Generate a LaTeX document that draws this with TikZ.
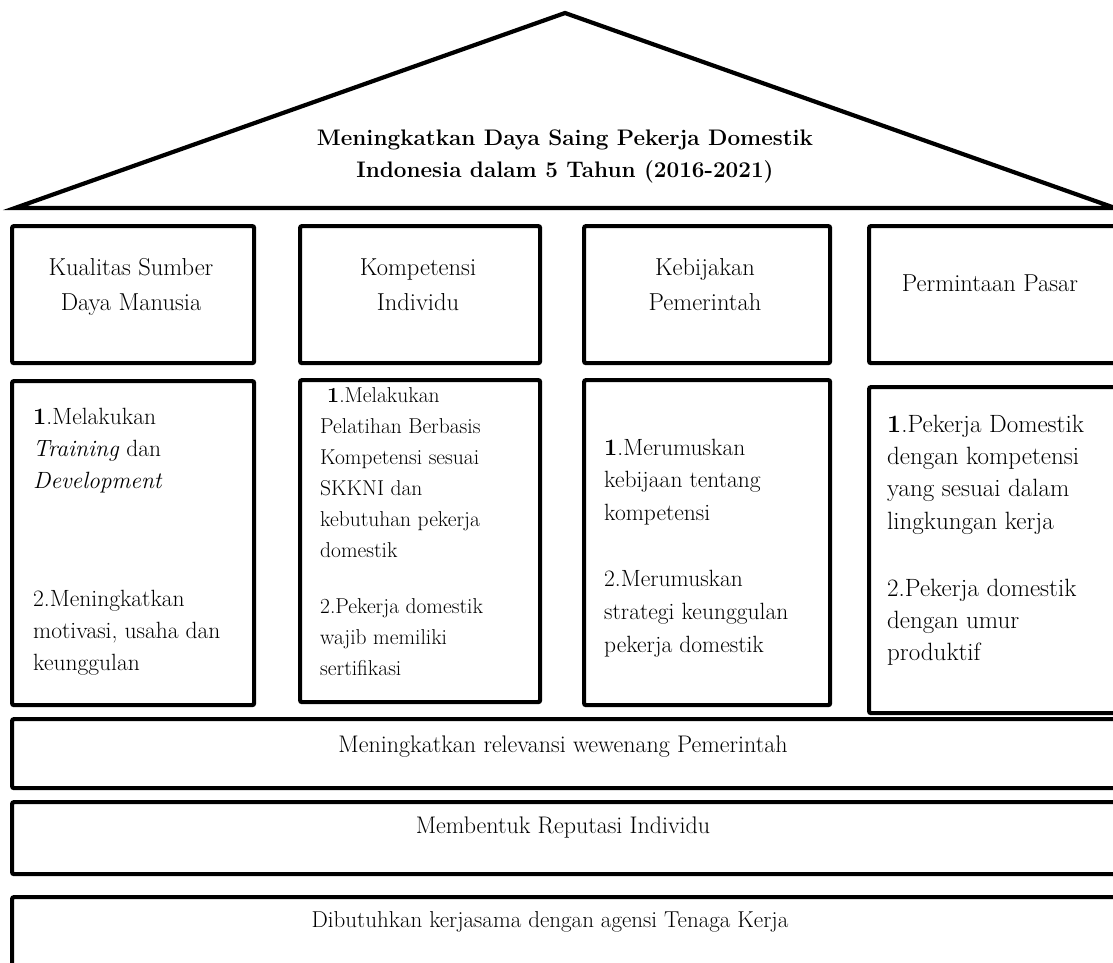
\documentclass[tikz,border=0pt]{standalone}
\usepackage{fontspec}
\begin{document}
\begin{tikzpicture}[x=1pt,y=-1pt,
  frame/.style={draw, line width=4.2pt, rounded corners=2pt, anchor=north west, inner sep=0pt},
  roofline/.style={draw, line width=4.2pt, line join=miter},
  leftblock/.style={inner sep=0pt, anchor=base west},
  headblock/.style={font=\fontsize{24.5}{35}\selectfont, inner sep=0pt, anchor=base},
  bandtext/.style={font=\fontsize{24}{30}\selectfont, inner sep=0pt, anchor=base},
  titletext/.style={font=\fontsize{22.5}{32}\selectfont\bfseries, inner sep=0pt, anchor=base}
]
\useasboundingbox (0,0) rectangle (1113,962);
\clip (0,0) rectangle (1113,962);

% roof
\coordinate (roofL) at (15,208);
\coordinate (apex) at (565,13);
\coordinate (roofR) at (1115,208);
\draw[roofline] (roofL) -- (apex) -- (roofR) -- cycle;
\node[titletext] (title) at (565,145) {\parbox[t]{640pt}{\centering Meningkatkan Daya Saing Pekerja Domestik\\Indonesia dalam 5 Tahun (2016-2021)}};

% top boxes
\node[frame, minimum width=242pt, minimum height=137pt] (b1) at (10,224) {};
\node[frame, minimum width=240pt, minimum height=137pt] (b2) at (298,224) {};
\node[frame, minimum width=246pt, minimum height=137pt] (b3) at (582,224) {};
\node[frame, minimum width=270pt, minimum height=137pt] (b4) at (867,224) {};

\node[headblock] (h1) at (131,275) {\parbox[t]{235pt}{\centering Kualitas Sumber\\Daya Manusia}};
\node[headblock] (h2) at (418,275) {\parbox[t]{235pt}{\centering Kompetensi\\Individu}};
\node[headblock] (h3) at (705,275) {\parbox[t]{235pt}{\centering Kebijakan\\Pemerintah}};
\node[headblock] (h4) at (990,291) {Permintaan Pasar};

% lower boxes
\node[frame, minimum width=242pt, minimum height=324pt] (l1) at (10,379) {};
\node[frame, minimum width=240pt, minimum height=322pt] (l2) at (298,378) {};
\node[frame, minimum width=246pt, minimum height=325pt] (l3) at (582,378) {};
\node[frame, minimum width=270pt, minimum height=326pt] (l4) at (867,385) {};

\node[leftblock, font=\fontsize{23.5}{32}\selectfont] (t1) at (33,424) {\parbox[t]{215pt}{\raggedright
\textbf{1}.Melakukan\\
\textit{Training} dan\\
\textit{Development}\\[86pt]
2.Meningkatkan\\
motivasi, usaha dan\\
keunggulan}};

\node[leftblock, font=\fontsize{21.5}{31}\selectfont] (t2) at (320,402) {\parbox[t]{215pt}{\raggedright
\hspace*{7pt}\textbf{1}.Melakukan\\
Pelatihan Berbasis\\
Kompetensi sesuai\\
SKKNI dan\\
kebutuhan pekerja\\
domestik\\[25pt]
2.Pekerja domestik\\
wajib memiliki\\
sertifikasi}};

\node[leftblock, font=\fontsize{23.5}{32.7}\selectfont] (t3) at (604,455) {\parbox[t]{220pt}{\raggedright
\textbf{1}.Merumuskan\\
kebijaan tentang\\
kompetensi\\[33.5pt]
2.Merumuskan\\
strategi keunggulan\\
pekerja domestik}};

\node[leftblock, font=\fontsize{25}{32.4}\selectfont] (t4) at (887,432) {\parbox[t]{222pt}{\raggedright
\textbf{1}.Pekerja Domestik\\
dengan kompetensi\\
yang sesuai dalam\\
lingkungan kerja\\[34.5pt]
2.Pekerja domestik\\
dengan umur\\
produktif}};

% bands
\node[frame, minimum width=1130pt, minimum height=69pt] (r1) at (10,717) {};
\node[frame, minimum width=1130pt, minimum height=72pt] (r2) at (10,800) {};
\node[frame, minimum width=1130pt, minimum height=110pt] (r3) at (10,895) {};

\node[bandtext] (s1) at (563,752) {Meningkatkan relevansi wewenang Pemerintah};
\node[bandtext] (s2) at (563,833) {Membentuk Reputasi Individu};
\node[bandtext, font=\fontsize{23}{30}\selectfont] (s3) at (550,927) {Dibutuhkan kerjasama dengan agensi Tenaga Kerja};
\end{tikzpicture}
\end{document}
